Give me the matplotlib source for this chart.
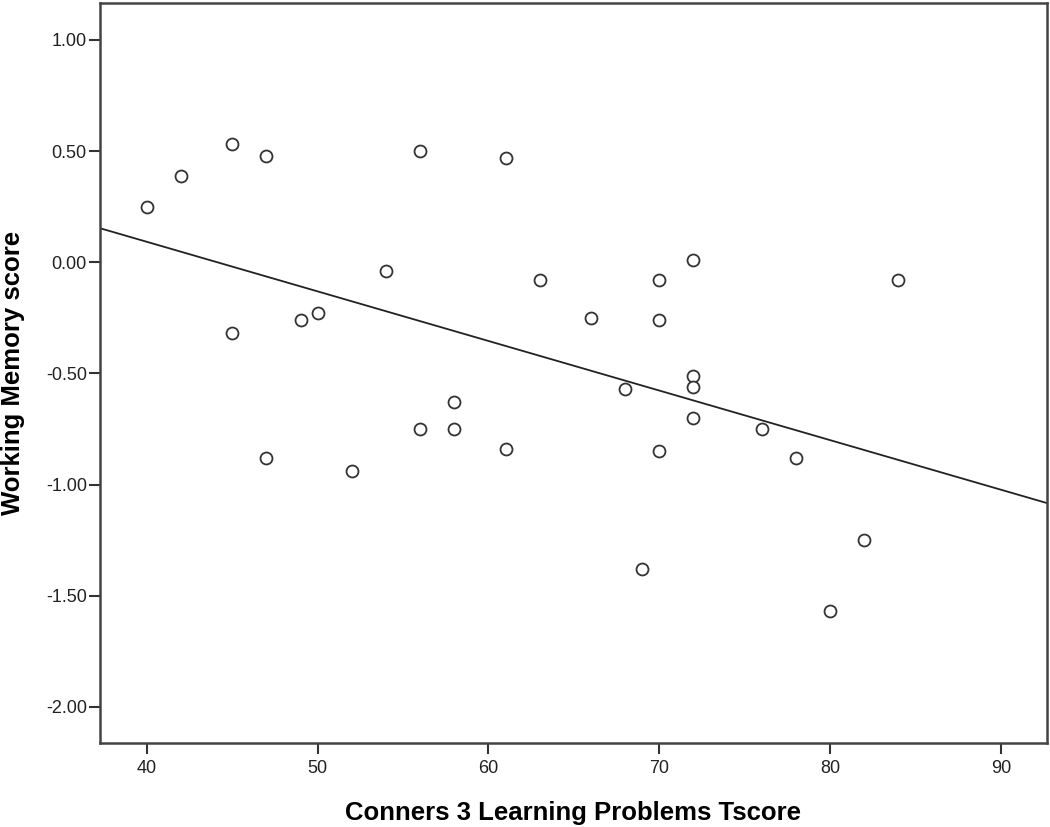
import numpy as np
import matplotlib.pyplot as plt

plt.rcParams['font.family'] = ['Liberation Sans', 'DejaVu Sans']

# Conners 3 Learning Problems T-scores and working memory scores
tscore = [40, 42, 45, 47, 45, 47, 49, 50, 52, 54, 56, 56, 58, 58, 61, 61,
          63, 66, 68, 69, 70, 70, 70, 72, 72, 72, 72, 76, 78, 80, 82, 84]
wm = [0.25, 0.39, 0.53, 0.48, -0.32, -0.88, -0.26, -0.23, -0.94, -0.04,
      0.50, -0.75, -0.63, -0.75, 0.47, -0.84, -0.08, -0.25, -0.57, -1.38,
      -0.08, -0.26, -0.85, 0.01, -0.51, -0.56, -0.70, -0.75, -0.88, -1.57,
      -1.25, -0.08]

xticks = [40, 50, 60, 70, 80, 90]
yticks = [1.0, 0.5, 0.0, -0.5, -1.0, -1.5, -2.0]

fig = plt.figure(figsize=(10.5, 8.27), dpi=100)
ax = fig.add_axes([0.0952, 0.1016, 0.9019, 0.8948])

xmin, xmax = 37.25, 92.7
ax.set_xlim(xmin, xmax)
ax.set_ylim(-2.162, 1.166)

# least squares fit line
b, a = np.polyfit(tscore, wm, 1)
xs = np.array([xmin, xmax])
ax.plot(xs, a + b * xs, color='#222222', lw=1.3, zorder=2)

ax.plot(tscore, wm, 'o', ms=8.6, mfc='white', mec='#333333', mew=1.3,
        linestyle='none', zorder=3)

ax.set_xticks(xticks)
ax.set_yticks(yticks)
ax.set_yticklabels(['%.2f' % v for v in yticks])
ax.tick_params(direction='out', length=8, width=1.5, color='#333333',
               labelsize=13, labelcolor='#222222')
ax.tick_params(axis='y', pad=1.5)
ax.tick_params(axis='x', pad=4)
for s in ax.spines.values():
    s.set_linewidth(1.8)
    s.set_color('#444444')

ax.set_xlabel('Conners 3 Learning Problems Tscore', fontsize=18.5,
              fontweight='bold')
ax.set_ylabel('Working Memory score', fontsize=18.5, fontweight='bold')
ax.xaxis.set_label_coords(0.5, -0.078)
ax.yaxis.set_label_coords(-0.079, 0.5)

fig.savefig('out.png', dpi=100)
